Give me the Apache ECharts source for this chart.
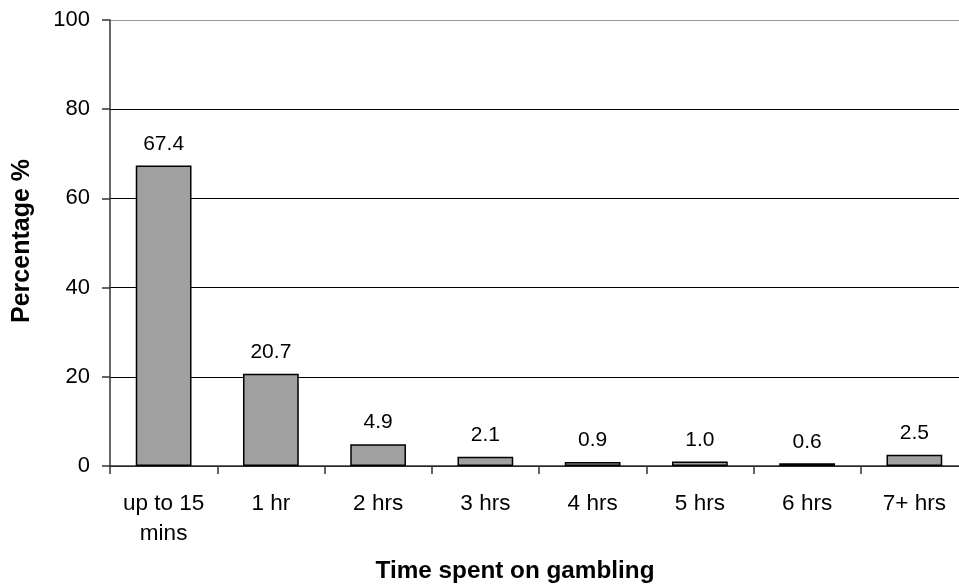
<!DOCTYPE html>
<html>
<head>
<meta charset="utf-8">
<script src="https://cdn.jsdelivr.net/npm/echarts@6/dist/echarts.min.js"></script>
<style>
  html, body { margin: 0; padding: 0; background: #ffffff; }
  #chart { width: 959px; height: 585px; }
</style>
</head>
<body>
<div id="chart"></div>
<script>
// Share of respondents by time spent on gambling
const categories = ['up to 15\nmins', '1 hr', '2 hrs', '3 hrs', '4 hrs', '5 hrs', '6 hrs', '7+ hrs'];
const percentages = [67.4, 20.7, 4.9, 2.1, 0.9, 1.0, 0.6, 2.5];
const yTicks = [0, 20, 40, 60, 80, 100];

const font = 'Liberation Sans, Arial, sans-serif';
const chart = echarts.init(document.getElementById('chart'), null, { renderer: 'canvas' });

chart.setOption({
  backgroundColor: '#ffffff',
  animation: false,
  grid: { left: 110, top: 20, width: 858, height: 446, containLabel: false, outerBoundsMode: 'none' },
  xAxis: {
    type: 'category',
    data: categories,
    name: 'Time spent on gambling',
    nameLocation: 'middle',
    nameGap: 93,
    nameTextStyle: { fontFamily: font, fontSize: 24.3, fontWeight: 'bold', color: '#000', padding: [0, 48, 0, 0] },
    axisLine: { lineStyle: { color: '#333', width: 1.5 } },
    axisTick: { show: true, length: 8, lineStyle: { color: '#333', width: 1.5 } },
    axisLabel: { fontFamily: font, fontSize: 22.5, color: '#000', margin: 23, lineHeight: 30, interval: 0 },
    splitLine: { show: false }
  },
  yAxis: {
    type: 'value',
    min: yTicks[0],
    max: yTicks[yTicks.length - 1],
    interval: 20,
    name: 'Percentage %',
    nameLocation: 'middle',
    nameRotate: 90,
    nameGap: 75,
    nameTextStyle: { fontFamily: font, fontSize: 25, fontWeight: 'bold', color: '#000', padding: [0, 0, 0, 4] },
    axisLine: { show: true, lineStyle: { color: '#333', width: 1.5 } },
    axisTick: { show: true, length: 8, lineStyle: { color: '#333', width: 1.5 } },
    axisLabel: { fontFamily: font, fontSize: 22, color: '#000', margin: 20 },
    splitLine: { show: true, lineStyle: { color: ['#000', '#000', '#000', '#000', '#000', '#999'], width: 1 } }
  },
  series: [{
    type: 'bar',
    data: percentages,
    barWidth: '52%',
    itemStyle: { color: '#a0a0a0', borderColor: '#000', borderWidth: 1.5 },
    label: {
      show: true,
      position: 'top',
      distance: 11,
      fontFamily: font,
      fontSize: 21,
      color: '#000',
      formatter: p => p.value.toFixed(1)
    }
  }]
});
</script>
</body>
</html>
